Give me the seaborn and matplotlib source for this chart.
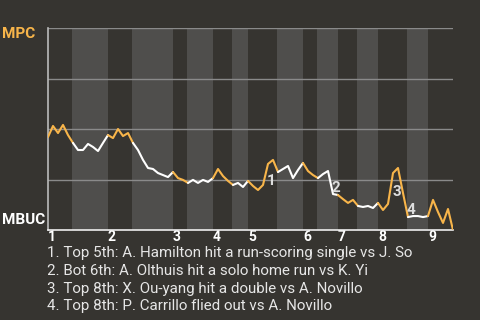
import matplotlib
matplotlib.use("Agg")
import matplotlib.pyplot as plt
import seaborn as sns
import pandas as pd

# ---- data ----
win_prob = [0.460, 0.515, 0.480, 0.520, 0.470, 0.431, 0.396, 0.396, 0.426, 0.411,
            0.391, 0.431, 0.470, 0.455, 0.500, 0.465, 0.480, 0.431, 0.396, 0.347,
            0.307, 0.302, 0.282, 0.272, 0.262, 0.287, 0.257, 0.248, 0.233, 0.248,
            0.233, 0.248, 0.238, 0.257, 0.302, 0.267, 0.243, 0.223, 0.233, 0.213,
            0.243, 0.218, 0.198, 0.223, 0.327, 0.347, 0.287, 0.302, 0.317, 0.257,
            0.297, 0.332, 0.292, 0.272, 0.257, 0.277, 0.292, 0.178, 0.173, 0.153,
            0.134, 0.149, 0.119, 0.114, 0.119, 0.109, 0.134, 0.099, 0.129, 0.282,
            0.307, 0.183, 0.064, 0.069, 0.069, 0.064, 0.069, 0.149, 0.089, 0.035,
            0.104, 0.000]
half_inning_bounds = [0, 5, 12, 17, 25, 28, 33, 37, 40, 46, 51, 54, 58, 62, 66, 72, 76, 81]
inning_labels = ["1", "2", "3", "4", "5", "6", "7", "8", "9"]
team_top = "MPC"
team_bottom = "MBUC"
event_numbers = ["1", "2", "3", "4"]
event_index = [44.6, 57.6, 69.8, 72.6]
event_label_prob = [0.243, 0.208, 0.188, 0.099]
event_texts = [
    "1. Top 5th: A. Hamilton hit a run-scoring single vs J. So",
    "2. Bot 6th: A. Olthuis hit a solo home run vs K. Yi",
    "3. Top 8th: X. Ou-yang hit a double vs A. Novillo",
    "4. Top 8th: P. Carrillo flied out vs A. Novillo",
]

BG = "#363430"
STRIPE = "#4f4e4c"
ORANGE = "#f8b54a"
WHITE = "#ffffff"
GRID = "#8a8a8a"

sns.set_theme(style="dark")
plt.rcParams["font.family"] = ["Roboto", "DejaVu Sans"]

fig = plt.figure(figsize=(4.8, 3.2), dpi=100, facecolor=BG)
ax = fig.add_axes([48 / 480, 90 / 320, 405 / 480, 202 / 320])
ax.set_facecolor(BG)

df = pd.DataFrame({"pa": range(len(win_prob)), "wp": win_prob})

# stripes for bottom halves
for k in range(1, len(half_inning_bounds) - 1, 2):
    ax.axvspan(half_inning_bounds[k] - 0.2, half_inning_bounds[k + 1],
               color=STRIPE, lw=0, zorder=0)

for gy in [0.25, 0.5, 0.75, 1.0]:
    ax.axhline(gy, color=GRID, lw=1, zorder=1)

for k in range(len(half_inning_bounds) - 1):
    a, b = half_inning_bounds[k], half_inning_bounds[k + 1]
    seg = df.iloc[a:b + 1]
    sns.lineplot(data=seg, x="pa", y="wp", ax=ax,
                 color=ORANGE if k % 2 == 0 else WHITE, lw=1.5, zorder=3)

for num, xi, yi in zip(event_numbers, event_index, event_label_prob):
    ax.text(xi, yi, num, color="#dddddd", fontsize=11, fontweight="bold",
            ha="center", va="center", zorder=4)

ax.set_xlim(0, len(win_prob) - 1)
ax.set_ylim(0, 1)
ax.set_xlabel("")
ax.set_ylabel("")
ax.set_yticks([])
tick_pos = [half_inning_bounds[i] for i in range(0, len(half_inning_bounds) - 1, 2)]
ax.set_xticks(tick_pos)
ax.set_xticklabels(inning_labels, color=WHITE, fontweight="bold", fontsize=10, ha="left")
ax.tick_params(axis="x", length=0, pad=0)
ax.grid(False)
for s in ["top", "right"]:
    ax.spines[s].set_visible(False)
ax.spines["left"].set_color("#bbbbbb")
ax.spines["left"].set_linewidth(1.2)
ax.spines["bottom"].set_color("#eeeeee")
ax.spines["bottom"].set_linewidth(1.2)

fig.text(2 / 480, 1 - 34 / 320, team_top, color=ORANGE, fontsize=11,
         fontweight="bold", ha="left", va="center")
fig.text(2 / 480, 1 - 220 / 320, team_bottom, color=WHITE, fontsize=11,
         fontweight="bold", ha="left", va="center")

for i, t in enumerate(event_texts):
    fig.text(47 / 480, 1 - (253 + 17.8 * i) / 320, t, color="#e6e6e6",
             fontsize=10.9, ha="left", va="center")

fig.savefig("out.png", dpi=100, facecolor=BG)
